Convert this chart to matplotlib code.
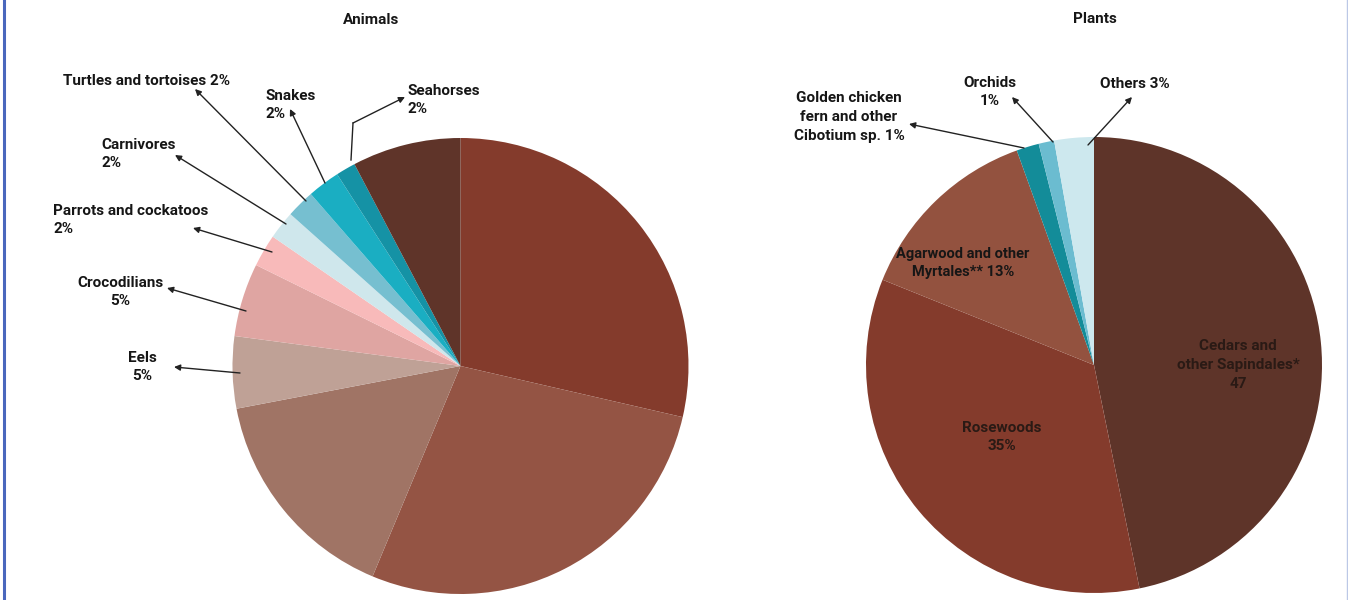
import matplotlib
matplotlib.use("Agg")
import matplotlib.pyplot as plt
from matplotlib.lines import Line2D

plt.rcParams['font.family'] = ['Roboto', 'DejaVu Sans']

# ---------------- data ----------------
animal_labels = ["Group A", "Group B", "Group C", "Eels", "Crocodilians",
                 "Parrots and cockatoos", "Carnivores", "Turtles and tortoises",
                 "Snakes", "Seahorses", "Group D"]
animal_values = [28.6, 27.7, 15.7, 5.1, 5.2, 2.3, 2.0, 2.0, 2.3, 1.4, 7.7]
animal_colors = ["#843B2C", "#945444", "#A07465", "#BFA196", "#DFA5A2",
                 "#F8BABA", "#CFE7EC", "#76BFD0", "#1AAEC2", "#1592A5", "#5F3429"]

plant_labels = ["Cedars and other Sapindales*", "Rosewoods",
                "Agarwood and other Myrtales**", "Golden chicken fern and other Cibotium sp.",
                "Orchids", "Others"]
plant_values = [46.8, 34.3, 13.4, 1.6, 1.1, 2.8]
plant_colors = ["#5E3429", "#843B2C", "#93523F", "#138C99", "#6BBCD0", "#CDE8EE"]

W, H = 1348, 600


def P(x, y):
    """pixel (y down) -> axes data (y up)"""
    return (x, H - y)


fig = plt.figure(figsize=(W / 100, H / 100), dpi=100)
ax = fig.add_axes([0, 0, 1, 1])

ax.pie(animal_values, colors=animal_colors, startangle=90, counterclock=False,
       center=P(460.5, 366), radius=228, wedgeprops=dict(linewidth=0))
ax.pie(plant_values, colors=plant_colors, startangle=90, counterclock=False,
       center=P(1094, 365), radius=228, wedgeprops=dict(linewidth=0))

ax.set_xlim(0, W)
ax.set_ylim(0, H)
ax.set_aspect('equal')
ax.axis('off')

TXT = "#161616"
FS = 11
LS = 1.42


def label(text, x, y, ha='left', va='center', color=TXT, fs=FS):
    ax.text(*P(x, y), text, ha=ha, va=va, fontsize=fs, fontweight='bold',
            color=color, linespacing=LS)


def arrow(tail, head):
    ax.annotate('', xy=P(*head), xytext=P(*tail),
                arrowprops=dict(arrowstyle='-|>', color='#222222', lw=1.0,
                                mutation_scale=9, shrinkA=0, shrinkB=0))


# titles
label("Animals", 371, 20, ha='center')
label("Plants", 1095, 19, ha='center')

# animal labels
label("Turtles and tortoises 2%", 63, 81)
arrow((306, 201), (195, 89))

label("Snakes\n2%", 266, 105)
arrow((325, 183), (290, 109))

label("Seahorses\n2%", 408, 100)
ax.plot(*zip(P(351, 160), P(353, 123)), color='#222222', lw=1.0)
arrow((353, 123), (405, 97))

label("Carnivores\n2%", 101, 154)
arrow((286, 224), (175, 155))

label("Parrots and cockatoos\n2%", 53, 220)
arrow((272, 252), (193, 228))

label("Crocodilians\n5%", 120, 292, ha='center')
arrow((246, 311), (167, 288))

label("Eels\n5%", 142, 367, ha='center')
arrow((240, 373), (174, 367))

# plant labels
label("Golden chicken\nfern and other\nCibotium sp. 1%", 849, 117, ha='center')
arrow((1024, 148), (909, 124))

label("Orchids\n1%", 990, 92, ha='center')
arrow((1053, 142), (1012, 97))

label("Others 3%", 1100, 84)
arrow((1088, 145), (1132, 97))

label("Agarwood and other\nMyrtales** 13%", 963, 263, ha='center', fs=10.5)
label("Cedars and\nother Sapindales*\n47", 1238, 365, ha='center', color="#2a1a15")
label("Rosewoods\n35%", 1002, 437, ha='center', color="#2a1a15")

# frame lines
fig.add_artist(Line2D([3.5 / W, 3.5 / W], [0, 1], transform=fig.transFigure,
                      color='#4A67BD', lw=2.2))
fig.add_artist(Line2D([1346.5 / W, 1346.5 / W], [0, 1], transform=fig.transFigure,
                      color='#BCC8E6', lw=1.0))

fig.savefig("out.png", dpi=100, facecolor='white')
